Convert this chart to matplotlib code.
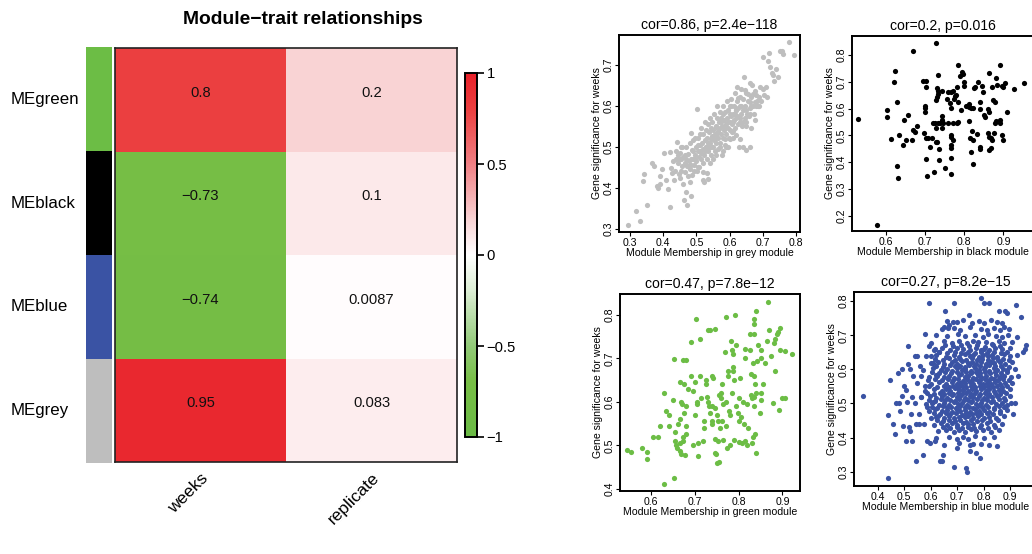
import matplotlib
matplotlib.use("Agg")
import matplotlib.pyplot as plt
from matplotlib.colors import LinearSegmentedColormap, Normalize
from matplotlib.cm import ScalarMappable
from matplotlib import font_manager
import matplotlib.transforms as mtrans

# ---------------- data ----------------
modules = ["MEgreen", "MEblack", "MEblue", "MEgrey"]
module_colors = ["#6CBD45", "#000000", "#3A53A4", "#BEBEBE"]
traits = ["weeks", "replicate"]
cor_values = [[0.80, 0.20],
              [-0.73, 0.10],
              [-0.74, 0.0087],
              [0.95, 0.083]]
cell_text = [["0.8", "0.2"],
             ["\u22120.73", "0.1"],
             ["\u22120.74", "0.0087"],
             ["0.95", "0.083"]]
cbar_ticks = [-1, -0.5, 0, 0.5, 1]
cbar_ticklabels = ["\u22121", "\u22120.5", "0", "0.5", "1"]

grey_pts = [
(0.295,0.310),(0.318,0.345),(0.330,0.320),(0.340,0.418),(0.342,0.435),(0.352,0.360),(0.367,0.460),(0.372,0.455),
(0.380,0.405),(0.385,0.400),(0.390,0.410),(0.391,0.430),(0.395,0.446),(0.402,0.485),(0.410,0.420),(0.415,0.397),
(0.421,0.355),(0.420,0.487),(0.425,0.450),(0.428,0.436),(0.430,0.465),(0.432,0.420),(0.435,0.441),(0.438,0.472),
(0.440,0.490),(0.441,0.512),(0.445,0.462),(0.447,0.434),(0.450,0.470),(0.451,0.486),(0.452,0.425),(0.455,0.442),
(0.456,0.455),(0.458,0.500),(0.460,0.476),(0.461,0.410),(0.462,0.370),(0.465,0.461),(0.466,0.440),(0.468,0.390),
(0.470,0.470),(0.471,0.455),(0.472,0.360),(0.475,0.482),(0.476,0.430),(0.478,0.466),(0.480,0.415),(0.481,0.510),
(0.482,0.446),(0.484,0.380),(0.485,0.456),(0.487,0.431),(0.488,0.492),(0.490,0.472),(0.491,0.516),(0.492,0.456),
(0.494,0.441),(0.495,0.522),(0.497,0.481),(0.500,0.500),(0.500,0.466),(0.501,0.442),(0.502,0.592),(0.505,0.490),
(0.505,0.521),(0.507,0.476),(0.508,0.451),(0.510,0.531),(0.511,0.506),(0.512,0.491),(0.515,0.546),(0.515,0.471),
(0.518,0.511),(0.520,0.496),(0.521,0.531),(0.522,0.416),(0.523,0.481),(0.525,0.561),(0.526,0.516),(0.528,0.501),
(0.530,0.541),(0.531,0.471),(0.532,0.521),(0.534,0.421),(0.535,0.556),(0.536,0.491),(0.538,0.536),(0.540,0.511),
(0.541,0.571),(0.542,0.501),(0.544,0.546),(0.545,0.481),(0.546,0.526),(0.548,0.561),(0.550,0.501),(0.551,0.541),
(0.552,0.516),(0.553,0.581),(0.555,0.491),(0.556,0.531),(0.558,0.551),(0.560,0.511),(0.561,0.571),(0.562,0.601),
(0.564,0.536),(0.565,0.496),(0.566,0.521),(0.568,0.561),(0.570,0.546),(0.571,0.586),(0.572,0.511),(0.574,0.531),
(0.575,0.571),(0.576,0.481),(0.578,0.551),(0.580,0.521),(0.581,0.601),(0.582,0.566),(0.584,0.541),(0.585,0.506),
(0.586,0.586),(0.588,0.556),(0.590,0.531),(0.591,0.611),(0.592,0.571),(0.594,0.546),(0.595,0.501),(0.596,0.591),
(0.598,0.521),(0.600,0.561),(0.601,0.541),(0.602,0.601),(0.604,0.576),(0.605,0.616),(0.606,0.536),(0.608,0.556),
(0.610,0.581),(0.611,0.521),(0.612,0.601),(0.614,0.566),(0.615,0.631),(0.616,0.546),(0.618,0.591),(0.620,0.571),
(0.621,0.611),(0.622,0.646),(0.624,0.556),(0.625,0.596),(0.627,0.576),(0.628,0.501),(0.630,0.621),(0.631,0.561),
(0.632,0.601),(0.634,0.581),(0.635,0.641),(0.637,0.551),(0.640,0.616),(0.641,0.591),(0.642,0.670),(0.645,0.571),
(0.646,0.601),(0.648,0.551),(0.650,0.631),(0.652,0.581),(0.655,0.611),(0.657,0.576),(0.660,0.656),(0.661,0.596),
(0.663,0.546),(0.665,0.621),(0.668,0.651),(0.670,0.601),(0.672,0.581),(0.675,0.636),(0.677,0.566),(0.680,0.626),
(0.683,0.611),(0.685,0.601),(0.690,0.621),(0.692,0.646),(0.695,0.611),(0.700,0.641),(0.705,0.626),(0.710,0.646),
(0.712,0.621),(0.700,0.720),(0.715,0.710),(0.720,0.730),(0.721,0.695),(0.728,0.680),(0.730,0.675),(0.735,0.660),
(0.740,0.690),(0.745,0.670),(0.752,0.735),(0.758,0.735),(0.762,0.727),(0.780,0.755),(0.795,0.725),
(0.470,0.500),(0.490,0.490),(0.455,0.500),(0.485,0.535),(0.505,0.451),(0.520,0.440),(0.531,0.436),(0.521,0.420),
(0.630,0.520),(0.640,0.500),(0.649,0.493),(0.600,0.580),(0.580,0.580),(0.560,0.550),(0.530,0.500),(0.520,0.460),
(0.545,0.500),(0.555,0.520),(0.565,0.540),(0.575,0.560),(0.585,0.520),(0.595,0.560),(0.605,0.600),(0.615,0.580),
(0.625,0.620),(0.635,0.600),(0.645,0.640),(0.655,0.630),(0.545,0.520),(0.535,0.510),(0.525,0.490),(0.515,0.485),
(0.505,0.505),(0.495,0.470),(0.485,0.470),(0.475,0.455),(0.465,0.480),(0.455,0.470),(0.445,0.480),(0.560,0.530),
(0.570,0.500),(0.590,0.550),(0.610,0.560),(0.620,0.590),(0.630,0.570),(0.650,0.590),(0.660,0.610),(0.670,0.630),
(0.680,0.600),(0.690,0.600),(0.600,0.520),(0.590,0.500),(0.580,0.490),(0.550,0.470),(0.540,0.460),(0.560,0.480),
(0.610,0.540),(0.620,0.530),(0.640,0.560),(0.650,0.560),(0.660,0.580),(0.665,0.600),(0.675,0.610),(0.662,0.500),
]

black_pts = [
(0.529,0.560),(0.576,0.167),(0.728,0.846),(0.670,0.816),(0.623,0.741),(0.620,0.700),(0.627,0.626),(0.603,0.594),
(0.602,0.570),(0.612,0.485),(0.632,0.501),(0.629,0.385),(0.631,0.342),(0.643,0.464),(0.645,0.557),(0.651,0.482),
(0.657,0.576),(0.666,0.482),(0.670,0.520),(0.678,0.535),(0.674,0.514),(0.694,0.704),(0.702,0.704),(0.702,0.679),
(0.700,0.609),(0.700,0.601),(0.699,0.588),(0.697,0.510),(0.702,0.492),(0.708,0.489),(0.702,0.410),(0.704,0.348),
(0.713,0.458),(0.717,0.489),(0.723,0.364),(0.719,0.545),(0.725,0.545),(0.728,0.526),(0.728,0.477),(0.730,0.474),
(0.731,0.675),(0.733,0.666),(0.732,0.654),(0.728,0.632),(0.730,0.642),(0.732,0.725),(0.734,0.545),(0.736,0.408),
(0.738,0.545),(0.742,0.572),(0.742,0.557),(0.745,0.545),(0.742,0.526),(0.736,0.448),(0.751,0.377),(0.759,0.545),
(0.755,0.634),(0.759,0.663),(0.767,0.663),(0.772,0.666),(0.763,0.622),(0.767,0.604),(0.774,0.634),(0.771,0.545),
(0.767,0.501),(0.765,0.495),(0.765,0.451),(0.767,0.414),(0.767,0.464),(0.771,0.482),(0.765,0.355),(0.777,0.646),
(0.779,0.650),(0.781,0.682),(0.783,0.763),(0.781,0.545),(0.783,0.551),(0.785,0.626),(0.792,0.594),(0.794,0.738),
(0.796,0.729),(0.799,0.700),(0.798,0.684),(0.805,0.609),(0.811,0.607),(0.811,0.617),(0.817,0.601),(0.813,0.555),
(0.815,0.492),(0.817,0.439),(0.822,0.393),(0.819,0.517),(0.823,0.482),(0.822,0.601),(0.825,0.675),(0.828,0.679),
(0.832,0.505),(0.839,0.458),(0.840,0.448),(0.839,0.598),(0.836,0.698),(0.840,0.626),(0.844,0.684),(0.847,0.663),
(0.851,0.576),(0.853,0.570),(0.860,0.597),(0.862,0.734),(0.864,0.588),(0.860,0.507),(0.862,0.495),(0.864,0.445),
(0.868,0.451),(0.868,0.489),(0.870,0.482),(0.870,0.679),(0.873,0.632),(0.879,0.626),(0.875,0.510),(0.879,0.545),
(0.881,0.555),(0.881,0.713),(0.883,0.688),(0.890,0.547),(0.892,0.761),(0.892,0.557),(0.896,0.501),(0.898,0.482),
(0.896,0.684),(0.900,0.679),(0.905,0.694),(0.909,0.588),(0.927,0.672),(0.953,0.694),(0.742,0.666),(0.790,0.720),
]

green_pts = [
(0.545,0.490),(0.555,0.485),(0.580,0.495),(0.590,0.485),(0.590,0.468),(0.605,0.520),(0.615,0.520),(0.620,0.545),
(0.630,0.620),(0.630,0.410),(0.635,0.578),(0.640,0.570),(0.640,0.545),(0.650,0.605),(0.652,0.698),(0.653,0.425),
(0.655,0.530),(0.655,0.510),(0.658,0.500),(0.660,0.495),(0.662,0.550),(0.665,0.560),(0.665,0.645),(0.668,0.600),
(0.670,0.595),(0.665,0.505),(0.665,0.488),(0.668,0.480),(0.672,0.510),(0.672,0.520),(0.675,0.640),(0.675,0.575),
(0.672,0.696),(0.680,0.696),(0.680,0.590),(0.680,0.545),(0.680,0.525),(0.678,0.478),(0.685,0.630),(0.690,0.660),
(0.690,0.738),(0.695,0.626),(0.695,0.500),(0.700,0.645),(0.700,0.570),(0.703,0.790),(0.705,0.595),(0.705,0.600),
(0.708,0.505),(0.708,0.475),(0.712,0.660),(0.712,0.745),(0.715,0.610),(0.718,0.510),(0.720,0.555),(0.720,0.540),
(0.725,0.650),(0.725,0.640),(0.728,0.612),(0.730,0.765),(0.730,0.600),(0.732,0.590),(0.735,0.765),(0.735,0.575),
(0.738,0.555),(0.740,0.590),(0.740,0.550),(0.740,0.660),(0.742,0.655),(0.745,0.767),(0.745,0.585),(0.745,0.515),
(0.748,0.480),(0.745,0.482),(0.750,0.460),(0.750,0.570),(0.752,0.555),(0.752,0.510),(0.755,0.615),(0.755,0.462),
(0.758,0.540),(0.760,0.620),(0.760,0.610),(0.762,0.640),(0.765,0.595),(0.765,0.512),(0.768,0.715),(0.770,0.795),
(0.770,0.600),(0.772,0.545),(0.773,0.495),(0.775,0.670),(0.775,0.660),(0.778,0.580),(0.780,0.500),(0.780,0.570),
(0.782,0.740),(0.785,0.620),(0.785,0.720),(0.788,0.710),(0.788,0.680),(0.788,0.670),(0.790,0.650),(0.790,0.512),
(0.792,0.800),(0.795,0.730),(0.795,0.590),(0.798,0.575),(0.800,0.610),(0.800,0.555),(0.800,0.508),(0.803,0.655),
(0.805,0.565),(0.808,0.505),(0.810,0.600),(0.812,0.550),(0.815,0.700),(0.815,0.722),(0.815,0.510),(0.818,0.500),
(0.820,0.595),(0.822,0.540),(0.825,0.720),(0.825,0.755),(0.828,0.665),(0.828,0.615),(0.830,0.505),(0.830,0.610),
(0.832,0.690),(0.832,0.520),(0.835,0.790),(0.835,0.780),(0.835,0.755),(0.835,0.660),(0.837,0.640),(0.838,0.525),
(0.840,0.810),(0.840,0.620),(0.840,0.482),(0.842,0.695),(0.845,0.730),(0.848,0.575),(0.850,0.720),(0.850,0.620),
(0.850,0.700),(0.852,0.605),(0.855,0.640),(0.860,0.690),(0.865,0.740),(0.867,0.830),(0.870,0.765),(0.873,0.705),
(0.878,0.598),(0.880,0.735),(0.882,0.745),(0.883,0.670),(0.887,0.755),(0.890,0.760),(0.893,0.582),(0.895,0.720),
(0.895,0.770),(0.900,0.610),(0.905,0.610),(0.905,0.718),(0.922,0.710),(0.835,0.590),(0.836,0.612),(0.762,0.555),
]

blue_pts = [
(0.345,0.523),(0.440,0.280),(0.438,0.465),(0.446,0.568),(0.458,0.440),(0.466,0.410),(0.470,0.500),(0.476,0.590),
(0.480,0.500),(0.483,0.478),(0.490,0.522),(0.493,0.600),(0.495,0.435),(0.500,0.550),(0.505,0.390),(0.508,0.540),
(0.512,0.505),(0.515,0.670),(0.516,0.615),(0.520,0.600),(0.518,0.430),(0.522,0.420),(0.525,0.470),(0.530,0.390),
(0.530,0.520),(0.535,0.580),(0.540,0.640),(0.540,0.500),(0.545,0.330),(0.545,0.440),(0.550,0.640),(0.550,0.560),
(0.555,0.470),(0.556,0.440),(0.560,0.610),(0.562,0.580),(0.565,0.520),(0.570,0.350),(0.575,0.440),(0.580,0.705),
(0.580,0.550),(0.585,0.490),(0.585,0.390),(0.590,0.570),(0.595,0.795),(0.595,0.670),(0.598,0.385),(0.600,0.640),
(0.605,0.500),(0.610,0.620),(0.615,0.660),(0.615,0.390),(0.620,0.460),(0.625,0.580),(0.630,0.650),(0.635,0.330),
(0.642,0.330),(0.645,0.350),(0.650,0.725),(0.653,0.770),(0.665,0.720),(0.670,0.730),(0.688,0.795),(0.685,0.740),
(0.690,0.315),(0.700,0.370),(0.732,0.310),(0.737,0.300),(0.745,0.760),(0.750,0.360),(0.762,0.380),(0.770,0.355),
(0.785,0.340),(0.790,0.810),(0.800,0.795),(0.822,0.795),(0.850,0.375),(0.860,0.770),(0.880,0.770),(0.887,0.765),
(0.905,0.500),(0.910,0.470),(0.922,0.790),(0.926,0.695),(0.942,0.755),(0.950,0.650),(0.956,0.660),(0.962,0.672),
(0.662,0.742),(0.700,0.738),(0.722,0.745),(0.758,0.736),(0.781,0.741),(0.803,0.735),(0.828,0.744),(0.851,0.739),(0.869,0.737),
(0.641,0.718),(0.688,0.722),(0.712,0.716),(0.748,0.724),(0.790,0.719),(0.812,0.715),(0.839,0.721),(0.861,0.717),(0.879,0.723),(0.898,0.718),
(0.622,0.702),(0.661,0.697),(0.702,0.704),(0.731,0.698),(0.769,0.701),(0.798,0.695),(0.818,0.703),(0.848,0.699),(0.871,0.696),(0.892,0.702),
(0.603,0.678),(0.652,0.683),(0.681,0.677),(0.708,0.682),(0.739,0.676),(0.762,0.684),(0.779,0.679),(0.808,0.681),(0.831,0.675),(0.859,0.683),(0.878,0.678),(0.908,0.681),
(0.612,0.658),(0.641,0.662),(0.672,0.657),(0.699,0.663),(0.722,0.659),(0.748,0.656),(0.771,0.664),(0.789,0.658),(0.801,0.661),(0.822,0.657),(0.842,0.663),(0.868,0.659),(0.901,0.662),
(0.582,0.638),(0.621,0.643),(0.659,0.637),(0.688,0.641),(0.709,0.636),(0.731,0.644),(0.749,0.639),(0.762,0.642),(0.781,0.636),(0.799,0.643),(0.818,0.638),(0.832,0.641),(0.852,0.637),(0.879,0.644),(0.899,0.639),(0.928,0.642),
(0.601,0.618),(0.628,0.623),(0.652,0.617),(0.679,0.621),(0.701,0.616),(0.719,0.624),(0.741,0.619),(0.758,0.622),(0.772,0.615),(0.791,0.621),(0.809,0.617),(0.828,0.623),(0.841,0.618),(0.862,0.622),(0.881,0.616),(0.909,0.621),
(0.571,0.598),(0.609,0.603),(0.638,0.597),(0.661,0.602),(0.682,0.596),(0.698,0.604),(0.718,0.599),(0.731,0.601),(0.752,0.595),(0.768,0.603),(0.781,0.598),(0.802,0.602),(0.819,0.596),(0.838,0.604),(0.851,0.599),(0.872,0.601),(0.889,0.597),(0.918,0.602),
(0.592,0.578),(0.619,0.583),(0.649,0.577),(0.671,0.582),(0.689,0.576),(0.709,0.584),(0.728,0.579),(0.742,0.581),(0.759,0.576),(0.778,0.583),(0.792,0.578),(0.811,0.582),(0.829,0.576),(0.848,0.583),(0.861,0.579),(0.879,0.581),(0.902,0.577),(0.931,0.582),
(0.601,0.558),(0.632,0.562),(0.659,0.557),(0.679,0.563),(0.698,0.556),(0.712,0.561),(0.731,0.559),(0.748,0.564),(0.762,0.557),(0.781,0.562),(0.799,0.556),(0.812,0.561),(0.829,0.558),(0.842,0.563),(0.861,0.557),(0.882,0.561),(0.908,0.559),
(0.578,0.538),(0.612,0.543),(0.641,0.537),(0.659,0.542),(0.672,0.536),(0.691,0.544),(0.709,0.539),(0.721,0.541),(0.741,0.536),(0.758,0.543),(0.772,0.538),(0.789,0.542),(0.808,0.536),(0.821,0.543),(0.839,0.538),(0.858,0.541),(0.872,0.537),(0.901,0.542),
(0.562,0.518),(0.598,0.523),(0.621,0.517),(0.642,0.522),(0.661,0.516),(0.679,0.524),(0.699,0.519),(0.712,0.521),(0.731,0.516),(0.749,0.523),(0.762,0.518),(0.781,0.522),(0.801,0.516),(0.818,0.523),(0.831,0.518),(0.852,0.521),(0.878,0.517),(0.899,0.522),
(0.581,0.498),(0.609,0.503),(0.631,0.497),(0.652,0.502),(0.669,0.496),(0.688,0.504),(0.702,0.499),(0.719,0.501),(0.739,0.496),(0.752,0.503),(0.771,0.498),(0.789,0.502),(0.809,0.496),(0.829,0.503),(0.848,0.498),(0.869,0.501),(0.888,0.497),(0.918,0.502),
(0.592,0.478),(0.618,0.483),(0.641,0.477),(0.662,0.482),(0.681,0.476),(0.699,0.484),(0.712,0.479),(0.731,0.481),(0.748,0.476),(0.768,0.483),(0.782,0.478),(0.801,0.482),(0.822,0.476),(0.841,0.483),(0.862,0.478),(0.889,0.481),
(0.601,0.458),(0.628,0.462),(0.652,0.457),(0.671,0.463),(0.689,0.456),(0.709,0.461),(0.728,0.459),(0.742,0.464),(0.761,0.457),(0.779,0.462),(0.801,0.456),(0.822,0.461),(0.849,0.458),(0.878,0.462),
(0.612,0.438),(0.639,0.443),(0.661,0.437),(0.682,0.442),(0.701,0.436),(0.722,0.444),(0.741,0.439),(0.762,0.441),(0.789,0.436),(0.812,0.443),(0.839,0.438),(0.868,0.441),
(0.628,0.418),(0.659,0.423),(0.688,0.417),(0.709,0.422),(0.731,0.416),(0.752,0.424),(0.771,0.419),(0.799,0.421),(0.829,0.416),(0.858,0.423),
(0.621,0.398),(0.668,0.403),(0.699,0.397),(0.722,0.402),(0.741,0.396),(0.769,0.404),(0.801,0.399),(0.839,0.401),
(0.652,0.378),(0.709,0.383),(0.748,0.377),(0.789,0.382),(0.821,0.379),
(0.655,0.671),(0.685,0.668),(0.715,0.672),(0.745,0.669),(0.775,0.671),(0.805,0.667),(0.835,0.672),(0.862,0.669),
(0.632,0.651),(0.662,0.648),(0.693,0.652),(0.716,0.649),(0.742,0.651),(0.766,0.647),(0.792,0.652),(0.812,0.649),(0.838,0.651),(0.865,0.648),(0.889,0.652),
(0.615,0.631),(0.645,0.628),(0.668,0.632),(0.692,0.629),(0.712,0.631),(0.735,0.627),(0.755,0.632),(0.776,0.629),(0.795,0.631),(0.815,0.628),(0.836,0.632),(0.856,0.629),(0.874,0.631),(0.895,0.628),
(0.622,0.611),(0.648,0.608),(0.672,0.612),(0.692,0.609),(0.712,0.611),(0.728,0.607),(0.745,0.612),(0.765,0.609),(0.785,0.611),(0.805,0.608),(0.822,0.612),(0.845,0.609),(0.865,0.611),(0.895,0.608),
(0.605,0.591),(0.632,0.588),(0.655,0.592),(0.676,0.589),(0.698,0.591),(0.716,0.587),(0.735,0.592),(0.752,0.589),(0.772,0.591),(0.788,0.588),(0.806,0.592),(0.825,0.589),(0.845,0.591),(0.866,0.588),(0.889,0.592),
(0.615,0.571),(0.642,0.568),(0.665,0.572),(0.685,0.569),(0.705,0.571),(0.722,0.567),(0.738,0.572),(0.755,0.569),(0.772,0.571),(0.788,0.568),(0.805,0.572),(0.822,0.569),(0.838,0.571),(0.855,0.568),(0.875,0.572),(0.895,0.569),
(0.595,0.551),(0.625,0.548),(0.652,0.552),(0.668,0.549),(0.685,0.551),(0.702,0.547),(0.718,0.552),(0.735,0.549),(0.752,0.551),(0.768,0.548),(0.785,0.552),(0.802,0.549),(0.818,0.551),(0.835,0.548),(0.852,0.552),(0.868,0.549),(0.888,0.551),
(0.585,0.531),(0.612,0.528),(0.635,0.532),(0.652,0.529),(0.668,0.531),(0.685,0.527),(0.705,0.532),(0.718,0.529),(0.735,0.531),(0.752,0.528),(0.768,0.532),(0.785,0.529),(0.805,0.531),(0.822,0.528),(0.842,0.532),(0.862,0.529),(0.885,0.531),
(0.592,0.511),(0.615,0.508),(0.638,0.512),(0.655,0.509),(0.672,0.511),(0.692,0.507),(0.708,0.512),(0.725,0.509),(0.742,0.511),(0.758,0.508),(0.775,0.512),(0.795,0.509),(0.812,0.511),(0.835,0.508),(0.858,0.512),(0.882,0.509),
(0.605,0.491),(0.625,0.488),(0.645,0.492),(0.662,0.489),(0.678,0.491),(0.695,0.487),(0.712,0.492),(0.728,0.489),(0.745,0.491),(0.762,0.488),(0.778,0.492),(0.795,0.489),(0.815,0.491),(0.838,0.488),(0.858,0.492),(0.878,0.489),
(0.612,0.471),(0.635,0.468),(0.658,0.472),(0.675,0.469),(0.695,0.471),(0.718,0.467),(0.735,0.472),(0.755,0.469),(0.772,0.471),(0.792,0.468),(0.812,0.472),(0.835,0.469),(0.862,0.471),
(0.625,0.451),(0.648,0.448),(0.668,0.452),(0.692,0.449),(0.712,0.451),(0.732,0.447),(0.752,0.452),(0.775,0.449),(0.795,0.451),(0.825,0.448),(0.855,0.452),
(0.648,0.431),(0.675,0.428),(0.698,0.432),(0.720,0.429),(0.742,0.431),(0.765,0.427),(0.785,0.432),(0.815,0.429),(0.845,0.431),
]

scatter_titles = ["cor=0.86, p=2.4e\u2212118", "cor=0.2, p=0.016",
                  "cor=0.47, p=7.8e\u221212", "cor=0.27, p=8.2e\u221215"]
scatter_modules = ["grey", "black", "green", "blue"]
scatter_colors = ["#BEBEBE", "#000000", "#6CBD45", "#3A53A4"]
scatter_xticks = [[0.3, 0.4, 0.5, 0.6, 0.7, 0.8], [0.6, 0.7, 0.8, 0.9],
                  [0.6, 0.7, 0.8, 0.9], [0.4, 0.5, 0.6, 0.7, 0.8, 0.9]]
scatter_yticks = [[0.3, 0.4, 0.5, 0.6, 0.7], [0.2, 0.3, 0.4, 0.5, 0.6, 0.7, 0.8],
                  [0.4, 0.5, 0.6, 0.7, 0.8], [0.3, 0.4, 0.5, 0.6, 0.7, 0.8]]
scatter_data = [grey_pts, black_pts, green_pts, blue_pts]
trait_name = "weeks"

# ---------------- fonts ----------------
avail = {f.name for f in font_manager.fontManager.ttflist}
def fams(names):
    return [n for n in names if n in avail] + ["DejaVu Sans"]
SANS = fams(["Liberation Sans", "Arial"])
has_narrow = "Liberation Sans Narrow" in avail
NARROW = fams(["Liberation Sans Narrow", "Liberation Sans"])
nscale = 1.0 if has_narrow else 0.84

W, H = 1032, 554
fig = plt.figure(figsize=(W / 100, H / 100), dpi=100)

def rect(x0, y0, x1, y1):
    return [x0 / W, 1 - y1 / H, (x1 - x0) / W, (y1 - y0) / H]

# ---------------- heatmap ----------------
cmap = LinearSegmentedColormap.from_list(
    "gwr",
    [(0.0, "#6ABA45"), (0.15, "#77BE45"), (0.25, "#92CA78"), (0.33, "#B8DDA8"),
     (0.40, "#DCEED4"), (0.5, "#FFFFFF"), (0.55, "#FCE9EA"), (0.60, "#F9D3D4"),
     (0.75, "#F08084"), (0.90, "#EB4040"), (1.0, "#E8212A")])
norm = Normalize(-1, 1)

ax = fig.add_axes(rect(115, 48, 457, 462))
ax.pcolormesh(range(len(traits) + 1), range(len(modules) + 1), cor_values,
              cmap=cmap, norm=norm)
ax.set_xlim(0, len(traits))
ax.set_ylim(len(modules), 0)
ax.set_xticks([])
ax.set_yticks([])
for s in ax.spines.values():
    s.set_linewidth(1.2)
    s.set_color("#222222")
for i in range(len(modules)):
    for j in range(len(traits)):
        ax.text(j + 0.5, i + 0.5 - 0.07, cell_text[i][j], ha="center", va="center",
                fontsize=10.6, family=SANS, color="#111111")
blend = mtrans.blended_transform_factory(ax.transData, ax.transAxes)
for j, t in enumerate(traits):
    ax.text(j + 0.5 + 0.0, -0.02, t, transform=blend, rotation=45,
            rotation_mode="anchor", ha="right", va="top", fontsize=12.5, family=SANS)

# module colour bar
axm = fig.add_axes(rect(86, 47, 112, 463))
axm.barh(range(len(modules)), [1] * len(modules), height=1.0, color=module_colors,
         align="edge")
axm.set_ylim(len(modules), 0)
axm.set_xlim(0, 1)
axm.axis("off")
for i, m in enumerate(modules):
    fig.text(11 / W, 1 - (48 + 103.5 * (i + 0.5)) / H, m, ha="left", va="center",
             fontsize=12.2, family=SANS)

# colour bar
axc = fig.add_axes(rect(465, 73, 477, 437))
cb = fig.colorbar(ScalarMappable(norm=norm, cmap=cmap), cax=axc, ticks=cbar_ticks)
cb.ax.set_yticklabels(cbar_ticklabels, family=SANS, fontsize=10.6)
cb.ax.tick_params(length=5, width=1.2, pad=2, direction="out")
cb.outline.set_linewidth(1.4)

fig.text(303 / W, 1 - 19 / H, "Module\u2212trait relationships", ha="center",
         va="center", fontsize=13.9, fontweight="bold", family=SANS)

# ---------------- scatter panels ----------------
panel_rects = [rect(619, 35, 800, 232), rect(852, 36, 1034, 231),
               rect(620, 294, 800, 491), rect(854, 292, 1038, 486)]
panel_lims = [((0.267, 0.812), (0.293, 0.773)), ((0.513, 0.978), (0.143, 0.871)),
              ((0.529, 0.940), (0.395, 0.848)), ((0.310, 1.006), (0.258, 0.827))]

for k in range(4):
    a = fig.add_axes(panel_rects[k])
    pts = scatter_data[k]
    a.scatter([p[0] for p in pts], [p[1] for p in pts], s=14, c=scatter_colors[k],
              linewidths=0)
    a.set_xlim(*panel_lims[k][0])
    a.set_ylim(*panel_lims[k][1])
    a.set_xticks(scatter_xticks[k])
    a.set_yticks(scatter_yticks[k])
    a.set_xticklabels([f"{v:.1f}" for v in scatter_xticks[k]], family=NARROW,
                      fontsize=9 * nscale)
    a.set_yticklabels([f"{v:.1f}" for v in scatter_yticks[k]], family=NARROW,
                      fontsize=9 * nscale, rotation=90, va="center")
    a.tick_params(length=3, width=0.8, pad=1)
    for s in a.spines.values():
        s.set_linewidth(1.4)
    a.set_title(scatter_titles[k], family=NARROW, fontsize=12 * nscale, pad=4)
    a.set_xlabel(f"Module Membership in {scatter_modules[k]} module", family=NARROW,
                 fontsize=9 * nscale, labelpad=0)
    a.set_ylabel(f"Gene significance for {trait_name}", family=NARROW,
                 fontsize=9 * nscale, labelpad=1)

fig.savefig("out.png", dpi=100)
